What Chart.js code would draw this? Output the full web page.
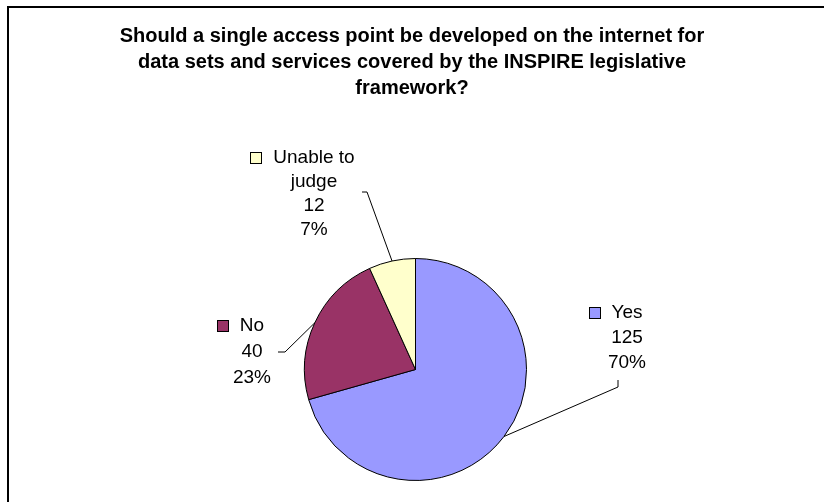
<!DOCTYPE html>
<html>
<head>
<meta charset="utf-8">
<script src="https://cdn.jsdelivr.net/npm/chart.js@4.4.1/dist/chart.umd.min.js"></script>
<style>
  html, body { margin: 0; padding: 0; background: #fff; }
  #wrap { width: 824px; height: 502px; position: relative; }
</style>
</head>
<body>
<div id="wrap"><canvas id="myChart" width="824" height="502"></canvas></div>
<script>
// dades de l'enquesta
const categories = ["Yes", "No", "Unable to judge"];
const respostes = [125, 40, 12];
const percentatges = ["70%", "23%", "7%"];
const colors = ["#9999FF", "#993366", "#FFFFCC"];

const titol = [
  "Should a single access point be developed on the internet for",
  "data sets and services covered by the INSPIRE legislative",
  "framework?"
];

// on va cada etiqueta (eix central, y de cada linia) i el punt d'inici de la guia
const etiquetes = [
  { x: 627, y: [313, 338, 363], linies: ["Yes"], guia: [[618, 380], [618, 387]] },
  { x: 252, y: [326, 352, 378], linies: ["No"], guia: [[278, 352], [285, 352]] },
  { x: 314, y: [158, 182, 206, 230], linies: ["Unable to", "judge"], guia: [[362, 192], [367, 192]] }
];

const font = "19px 'Liberation Sans', Arial, sans-serif";

const etiquetesPlugin = {
  id: "etiquetes",
  afterDraw(chart) {
    const ctx = chart.ctx;
    ctx.save();

    // marc
    ctx.strokeStyle = "#000";
    ctx.lineWidth = 2;
    ctx.beginPath();
    ctx.moveTo(8, 510);
    ctx.lineTo(8, 7);
    ctx.lineTo(830, 7);
    ctx.stroke();

    // titol
    ctx.fillStyle = "#000";
    ctx.font = "bold 20px 'Liberation Sans', Arial, sans-serif";
    ctx.textAlign = "center";
    ctx.textBaseline = "middle";
    titol.forEach((t, i) => ctx.fillText(t, 412, 36 + i * 26));

    const meta = chart.getDatasetMeta(0);
    ctx.font = font;
    etiquetes.forEach((et, i) => {
      const arc = meta.data[i];
      const mig = (arc.startAngle + arc.endAngle) / 2;
      const px = arc.x + Math.cos(mig) * arc.outerRadius;
      const py = arc.y + Math.sin(mig) * arc.outerRadius;

      // linia guia
      ctx.strokeStyle = "#000";
      ctx.lineWidth = 1;
      ctx.beginPath();
      ctx.moveTo(et.guia[0][0], et.guia[0][1]);
      ctx.lineTo(et.guia[1][0], et.guia[1][1]);
      ctx.lineTo(px, py);
      ctx.stroke();

      // text
      const textos = [...et.linies, String(respostes[i]), percentatges[i]];
      ctx.fillStyle = "#000";
      textos.forEach((t, j) => ctx.fillText(t, et.x, et.y[j]));

      // quadret de color
      const amplada = ctx.measureText(textos[0]).width;
      const qx = Math.round(et.x - amplada / 2 - 11 - 12);
      const qy = Math.round(et.y[0] - 6);
      ctx.fillStyle = colors[i];
      ctx.fillRect(qx, qy, 12, 12);
      ctx.strokeRect(qx + 0.5, qy + 0.5, 11, 11);
    });
    ctx.restore();
  }
};

const config = {
  type: "pie",
  data: {
    labels: categories,
    datasets: [{
      data: respostes,
      backgroundColor: colors,
      borderColor: "#000",
      borderWidth: 1
    }]
  },
  options: {
    responsive: false,
    animation: false,
    layout: { padding: { left: 304, right: 297, top: 258, bottom: 21 } },
    plugins: {
      legend: { display: false },
      tooltip: { enabled: false },
      title: { display: false }
    }
  },
  plugins: [etiquetesPlugin]
};

new Chart(document.getElementById("myChart"), config);
</script>
</body>
</html>
